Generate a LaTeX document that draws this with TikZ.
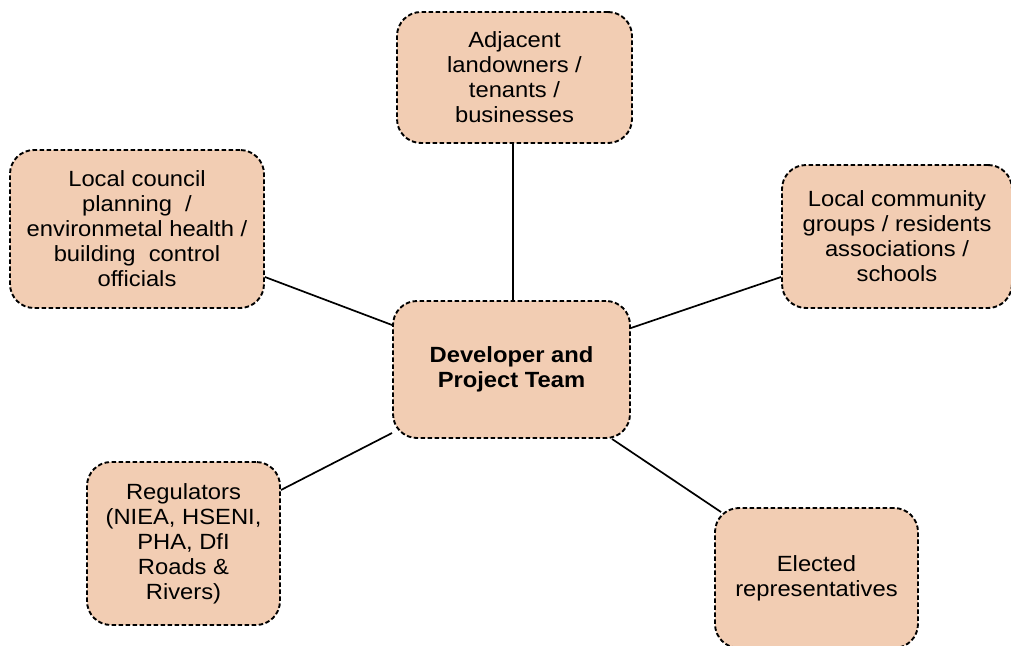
\documentclass[tikz,border=0pt]{standalone}
\usepackage{fontspec}
\setmainfont[FakeStretch=1.08]{Liberation Sans}
\definecolor{boxfill}{HTML}{F2CDB3}
\begin{document}
\begin{tikzpicture}[x=1pt,y=-1pt,
  stakebox/.style={draw=black, fill=boxfill, line width=1.9pt,
    dash pattern=on 4.5pt off 2.5pt, rounded corners=24pt,
    align=center, inner sep=2pt,
    font=\fontsize{22pt}{25pt}\selectfont},
  link/.style={draw=black, line width=1.7pt}]
\useasboundingbox (0,0) rectangle (1011,645);
\node[stakebox, minimum width=237pt, minimum height=137pt,
  font=\fontsize{22pt}{25pt}\selectfont\bfseries] (C) at (511.5,369.5)
  {Developer and\\Project Team};
\node[stakebox, minimum width=235pt, minimum height=131pt] (T) at (514.5,77.5)
  {Adjacent\\landowners /\\tenants /\\businesses};
\node[stakebox, minimum width=254pt, minimum height=158pt] (L) at (137,229)
  {Local council\\planning \ /\\environmetal health /\\building \ control\\officials};
\node[stakebox, minimum width=230pt, minimum height=143pt] (R) at (897,236.5)
  {Local community\\groups / residents\\associations /\\schools};
\node[stakebox, minimum width=193pt, minimum height=163pt] (BL) at (183.5,543.5)
  {Regulators\\(NIEA, HSENI,\\PHA, DfI\\Roads \&\\Rivers)};
\node[stakebox, minimum width=203pt, minimum height=140pt] (BR) at (816.5,578)
  {Elected\\representatives};
\draw[link] ([xshift=-1.5pt]T.south) -- ([xshift=1.5pt]C.north);
\draw[link] ([yshift=-48pt]L.east) -- ([yshift=44.5pt]C.west);
\draw[link] ([yshift=-40.5pt]R.west) -- ([yshift=41.5pt]C.east);
\draw[link] ([yshift=53.5pt]BL.east) -- ([yshift=-63.5pt]C.west);
\draw[link] ([xshift=100.5pt]C.south) -- ([xshift=7pt,yshift=-5pt]BR.north west);
\end{tikzpicture}
\end{document}
